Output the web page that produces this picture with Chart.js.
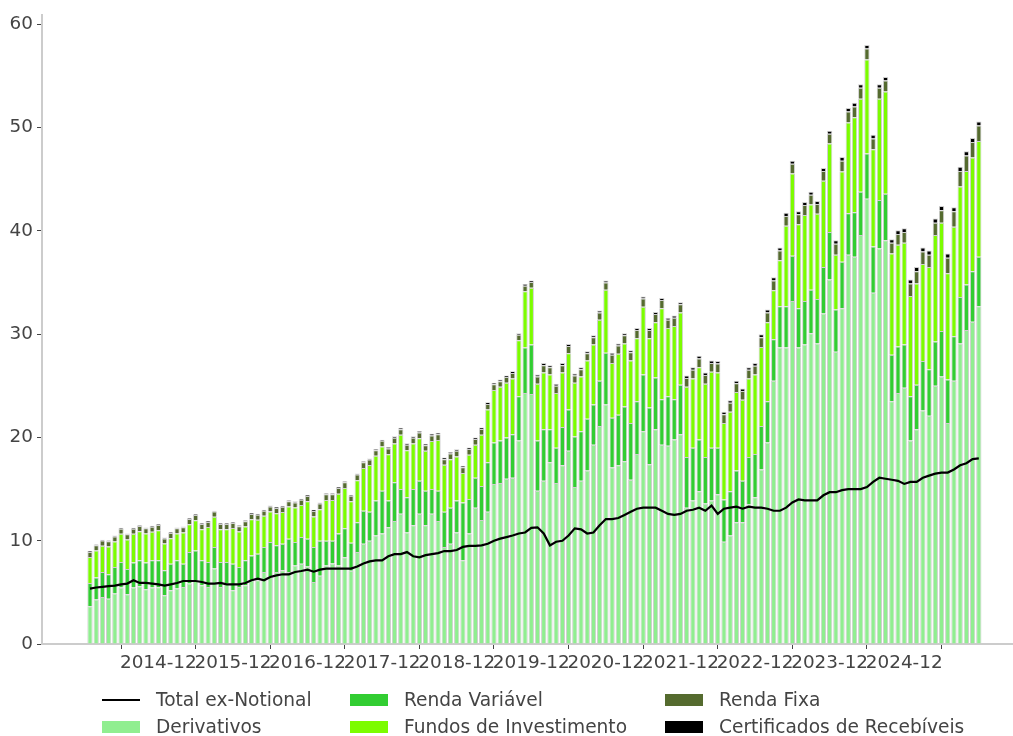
<!DOCTYPE html>
<html lang="pt-BR">
<head>
<meta charset="utf-8">
<title>Total ex-Notional</title>
<script src="https://cdn.jsdelivr.net/npm/chart.js@4.4.1/dist/chart.umd.min.js"></script>
<style>
  html, body { margin: 0; background: #fff; }
  #wrap { position: relative; width: 1013px; height: 736px; font-family: 'DejaVu Sans', sans-serif; }
  #chart { position: absolute; left: 0; top: 0; }
  #legend { position: absolute; left: 102px; top: 686px; display: grid;
            grid-template-columns: 248px 315px auto; grid-template-rows: 27px 27px;
            grid-auto-flow: column; font-size: 18.6px; color: #444; }
  .item { display: flex; align-items: center; white-space: nowrap; }
  .sw { width: 38px; height: 12px; margin-right: 16px; flex: none; }
  .sw.line { height: 2px; }
</style>
</head>
<body>
<div id="wrap">
  <canvas id="chart" width="1013" height="736"></canvas>
  <div id="legend"></div>
</div>
<script>
/* ── dados (R$ bi, mensal 2014-01 … 2025-12) ── */
var meses = [];
for (var a = 2014; a <= 2025; a++) for (var m = 1; m <= 12; m++) meses.push(a + '-' + (m < 10 ? '0' : '') + m);

var tickLabels = ['2014-12', '2015-12', '2016-12', '2017-12', '2018-12', '2019-12', '2020-12', '2021-12', '2022-12', '2023-12', '2024-12'];
var yTicks = [0, 10, 20, 30, 40, 50, 60];

var derivativos = [
  3.66, 4.3, 4.56, 4.37, 4.9, 5.47, 4.82, 5.47, 5.6, 5.3, 5.47, 5.5,
  4.73, 5.2, 5.37, 5.53, 5.85, 6.17, 5.69, 5.53, 7.3, 5.53, 5.85, 5.2,
  5.53, 5.69, 6.17, 6.17, 6.97, 6.5, 6.97, 7.14, 6.97, 7.6, 7.78, 7.5,
  6.0, 6.6, 7.6, 7.8, 7.6, 8.4, 7.1, 8.9, 9.7, 10.0, 10.5, 10.7,
  11.3, 11.9, 12.6, 10.8, 11.5, 12.6, 11.5, 12.6, 11.9, 9.4, 9.7, 10.8,
  8.1, 10.7, 13.2, 12.0, 12.8, 15.5, 15.6, 16.0, 16.1, 19.7, 24.3, 24.2,
  14.85, 15.8, 17.6, 15.6, 17.3, 18.7, 15.2, 15.8, 16.8, 19.3, 21.1, 23.2,
  17.1, 17.3, 17.7, 15.9, 18.4, 20.6, 17.4, 20.8, 19.3, 19.2, 19.8, 20.3,
  13.2, 13.9, 14.8, 13.6, 13.9, 14.5, 9.9, 10.5, 11.8, 11.8, 13.5, 14.2,
  16.9, 19.5, 25.5, 28.7, 28.7, 33.2, 28.7, 29.0, 30.1, 29.1, 32.0, 35.3,
  28.3, 32.5, 37.7, 37.5, 39.6, 43.1, 34.0, 38.3, 39.1, 23.5, 24.3, 24.8,
  19.7, 20.8, 22.6, 22.1, 25.0, 25.9, 21.4, 25.5, 29.1, 30.4, 31.2, 32.7
];
var rendaVariavel = [
  2.24, 2.13, 2.41, 2.38, 2.55, 2.47, 2.44, 2.43, 2.5, 2.6, 2.63, 2.6,
  2.41, 2.58, 2.73, 2.25, 3.05, 2.89, 2.41, 2.41, 2.1, 2.41, 2.09, 2.58,
  1.93, 2.41, 2.41, 2.57, 2.43, 3.37, 2.58, 2.56, 3.23, 2.27, 2.57, 2.7,
  3.4, 3.4, 2.4, 2.2, 3.1, 2.8, 2.7, 2.9, 3.2, 2.8, 3.4, 4.15,
  2.6, 3.75, 2.4, 3.4, 3.5, 3.2, 3.35, 2.4, 2.95, 3.4, 3.5, 3.1,
  5.6, 3.35, 2.9, 3.3, 4.8, 4.0, 4.1, 4.0, 4.2, 4.3, 4.4, 4.8,
  4.85, 5.0, 3.2, 3.4, 3.7, 4.0, 4.9, 4.8, 5.0, 3.9, 4.4, 5.0,
  4.8, 4.9, 5.3, 5.5, 5.1, 5.5, 5.5, 5.0, 4.4, 4.8, 3.9, 4.8,
  4.9, 5.1, 5.0, 4.5, 5.1, 4.5, 4.1, 4.3, 5.0, 4.0, 4.6, 4.2,
  4.2, 4.0, 4.0, 4.0, 4.0, 4.4, 3.8, 4.2, 4.2, 4.3, 4.5, 4.6,
  4.1, 4.5, 4.0, 4.3, 4.2, 4.4, 4.5, 4.7, 4.5, 4.5, 4.5, 4.2,
  4.3, 4.3, 4.8, 4.5, 4.3, 4.4, 4.2, 4.3, 4.5, 4.4, 4.9, 4.8
];
var fundos = [
  2.52, 2.63, 2.55, 2.7, 2.47, 2.73, 2.86, 2.77, 2.82, 2.8, 2.76, 2.92,
  2.58, 2.47, 2.6, 3.02, 2.7, 2.93, 3.02, 3.38, 2.92, 3.18, 3.18, 3.44,
  3.44, 3.28, 3.5, 3.28, 3.01, 2.95, 3.11, 3.09, 3.12, 3.34, 3.12, 3.62,
  2.94, 3.05, 3.95, 3.95, 3.85, 3.9, 4.01, 4.05, 4.15, 4.52, 4.32, 4.27,
  4.48, 3.76, 5.25, 4.55, 4.41, 4.12, 3.85, 4.65, 4.9, 4.55, 4.7, 4.25,
  2.86, 4.28, 3.2, 4.96, 5.1, 5.1, 5.2, 5.3, 5.4, 5.4, 5.45, 5.5,
  5.5, 5.5, 5.3, 5.3, 5.3, 5.46, 5.2, 5.3, 5.65, 5.8, 5.9, 6.1,
  5.3, 5.9, 6.1, 6.05, 6.1, 6.55, 6.7, 5.35, 8.8, 6.6, 7.1, 7.0,
  6.8, 6.7, 7.0, 7.1, 7.35, 7.3, 7.4, 7.7, 7.6, 7.85, 7.6, 7.7,
  7.65, 7.65, 4.75, 4.45, 7.8, 7.95, 8.15, 8.35, 8.25, 8.25, 8.35, 8.55,
  5.3, 8.75, 8.8, 9.2, 9.0, 9.1, 9.4, 9.8, 9.9, 9.8, 9.85, 9.85,
  9.7, 9.8, 9.4, 9.9, 10.3, 10.5, 10.3, 10.6, 10.7, 11.0, 11.0, 11.2
];
var rendaFixa = [
  0.5, 0.5, 0.5, 0.5, 0.5, 0.5, 0.5, 0.5, 0.5, 0.5, 0.5, 0.5,
  0.5, 0.5, 0.5, 0.5, 0.5, 0.5, 0.5, 0.5, 0.5, 0.5, 0.5, 0.5,
  0.5, 0.5, 0.5, 0.5, 0.5, 0.5, 0.5, 0.5, 0.5, 0.5, 0.5, 0.5,
  0.55, 0.55, 0.55, 0.55, 0.55, 0.55, 0.55, 0.55, 0.55, 0.55, 0.55, 0.55,
  0.55, 0.55, 0.55, 0.55, 0.55, 0.55, 0.55, 0.55, 0.55, 0.55, 0.55, 0.55,
  0.55, 0.55, 0.55, 0.55, 0.55, 0.55, 0.55, 0.55, 0.55, 0.55, 0.55, 0.55,
  0.7, 0.7, 0.7, 0.7, 0.7, 0.7, 0.7, 0.7, 0.7, 0.7, 0.7, 0.7,
  0.8, 0.8, 0.8, 0.8, 0.8, 0.8, 0.8, 0.8, 0.8, 0.8, 0.8, 0.8,
  0.85, 0.85, 0.85, 0.85, 0.85, 0.85, 0.85, 0.85, 0.85, 0.85, 0.85, 0.85,
  0.95, 0.95, 0.95, 0.95, 0.95, 0.95, 0.95, 0.95, 0.95, 0.95, 0.95, 0.95,
  1.05, 1.05, 1.05, 1.05, 1.05, 1.05, 1.05, 1.05, 1.05, 1.05, 1.05, 1.05,
  1.2, 1.2, 1.2, 1.2, 1.2, 1.2, 1.5, 1.5, 1.5, 1.5, 1.5, 1.5
];
var certificados = [
  0.08, 0.08, 0.08, 0.08, 0.08, 0.08, 0.08, 0.08, 0.08, 0.08, 0.08, 0.08,
  0.08, 0.08, 0.08, 0.08, 0.08, 0.08, 0.08, 0.08, 0.08, 0.08, 0.08, 0.08,
  0.1, 0.1, 0.1, 0.1, 0.1, 0.1, 0.1, 0.1, 0.1, 0.1, 0.1, 0.1,
  0.1, 0.1, 0.1, 0.1, 0.1, 0.1, 0.1, 0.1, 0.1, 0.1, 0.1, 0.1,
  0.15, 0.15, 0.15, 0.15, 0.15, 0.15, 0.15, 0.15, 0.15, 0.15, 0.15, 0.15,
  0.15, 0.15, 0.15, 0.15, 0.15, 0.15, 0.15, 0.15, 0.15, 0.15, 0.15, 0.15,
  0.2, 0.2, 0.2, 0.2, 0.2, 0.2, 0.2, 0.2, 0.2, 0.2, 0.2, 0.2,
  0.2, 0.2, 0.2, 0.2, 0.2, 0.2, 0.2, 0.2, 0.2, 0.2, 0.2, 0.2,
  0.25, 0.25, 0.25, 0.25, 0.25, 0.25, 0.25, 0.25, 0.25, 0.25, 0.25, 0.25,
  0.3, 0.3, 0.3, 0.3, 0.3, 0.3, 0.3, 0.3, 0.3, 0.3, 0.3, 0.3,
  0.35, 0.35, 0.35, 0.35, 0.35, 0.35, 0.35, 0.35, 0.35, 0.35, 0.35, 0.35,
  0.4, 0.4, 0.4, 0.4, 0.4, 0.4, 0.4, 0.4, 0.4, 0.4, 0.4, 0.4
];
var totalExNotional = [
  5.37, 5.47, 5.53, 5.6, 5.66, 5.78, 5.85, 6.17, 5.91, 5.91, 5.85, 5.78,
  5.66, 5.78, 5.91, 6.1, 6.1, 6.1, 6.0, 5.85, 5.85, 5.91, 5.78, 5.78,
  5.78, 5.91, 6.17, 6.33, 6.17, 6.49, 6.65, 6.75, 6.75, 6.97, 7.07, 7.2,
  7.0, 7.2, 7.3, 7.3, 7.3, 7.3, 7.3, 7.5, 7.8, 8.0, 8.1, 8.1,
  8.5, 8.7, 8.7, 8.9, 8.5, 8.4, 8.6, 8.7, 8.8, 9.0, 9.0, 9.1,
  9.4, 9.5, 9.5, 9.55, 9.7, 10.0, 10.2, 10.35, 10.5, 10.7, 10.8, 11.25,
  11.3, 10.7, 9.55, 9.9, 10.0, 10.5, 11.2, 11.1, 10.7, 10.8, 11.5, 12.1,
  12.1, 12.2, 12.5, 12.8, 13.1, 13.2, 13.2, 13.2, 12.9, 12.6, 12.5, 12.6,
  12.9, 13.0, 13.2, 12.9, 13.4, 12.6, 13.1, 13.2, 13.3, 13.1, 13.3, 13.2,
  13.2, 13.1, 12.9, 12.9, 13.2, 13.7, 14.0, 13.9, 13.9, 13.9, 14.4, 14.7,
  14.7, 14.9, 15.0, 15.0, 15.0, 15.2, 15.7, 16.1, 16.0, 15.9, 15.8, 15.5,
  15.7, 15.7, 16.1, 16.3, 16.5, 16.6, 16.6, 16.9, 17.3, 17.5, 17.9, 17.97
];

/* ── gráfico ── */
(function () {
  'use strict';
  var $ = function (id) { return document.getElementById(id); };
  var TXT = '#444';
  var FONT = { family: 'DejaVu Sans', size: 18.4 };
  var pontos = function (arr) { return arr.map(function (v, i) { return { x: i, y: v }; }); };

  function barra(label, data, cor) {
    return {
      type: 'bar', label: label, data: pontos(data), backgroundColor: cor,
      borderColor: '#cfcfcf', borderWidth: 1,
      barPercentage: 0.85, categoryPercentage: 1, stack: 'mercado', order: 1
    };
  }

  var datasets = [
    { type: 'line', label: 'Total ex-Notional', data: pontos(totalExNotional), borderColor: '#000', backgroundColor: '#000',
      borderWidth: 2.2, pointRadius: 0, tension: 0, stack: 'linha', order: 0 },
    barra('Derivativos', derivativos, '#90ee90'),
    barra('Renda Variável', rendaVariavel, '#32cd32'),
    barra('Fundos de Investimento', fundos, '#7cfc00'),
    barra('Renda Fixa', rendaFixa, '#556b2f'),
    barra('Certificados de Recebíveis', certificados, '#000000')
  ];

  new Chart($('chart'), {
    type: 'bar',
    data: { datasets: datasets },
    options: {
      responsive: false, animation: false, devicePixelRatio: 1,
      layout: { padding: { top: 12, right: 0, bottom: 0, left: 0 } },
      plugins: { legend: { display: false }, tooltip: { enabled: false } },
      scales: {
        x: {
          type: 'linear', min: -7.72, max: 148.5, offset: false,
          grid: { display: true, drawOnChartArea: false, drawTicks: true, tickLength: 5, color: TXT },
          border: { display: true, color: '#cccccc', width: 2 },
          ticks: { autoSkip: false, maxRotation: 0, minRotation: 0, padding: 3, color: TXT, font: FONT,
                   callback: function (v) { return meses[v]; } },
          afterBuildTicks: function (s) { s.ticks = tickLabels.map(function (t) { return { value: meses.indexOf(t) }; }); },
          afterFit: function (s) { s.height = 92; }
        },
        y: {
          stacked: true, min: 0, max: 60.9,
          grid: { display: true, drawOnChartArea: false, drawTicks: true, tickLength: 5, color: TXT },
          border: { display: true, color: '#cccccc', width: 2 },
          ticks: { padding: 4, color: TXT, font: FONT },
          afterBuildTicks: function (s) { s.ticks = yTicks.map(function (v) { return { value: v }; }); },
          afterFit: function (s) { s.width = 42; }
        }
      }
    }
  });

  /* ── legenda em 3 colunas (ordem por coluna) ── */
  $('legend').innerHTML = datasets.map(function (d) {
    var sw = d.type === 'line'
      ? '<span class="sw line" style="background:' + d.borderColor + '"></span>'
      : '<span class="sw" style="background:' + d.backgroundColor + '"></span>';
    return '<div class="item">' + sw + '<span>' + d.label + '</span></div>';
  }).join('');
})();
</script>
</body>
</html>
